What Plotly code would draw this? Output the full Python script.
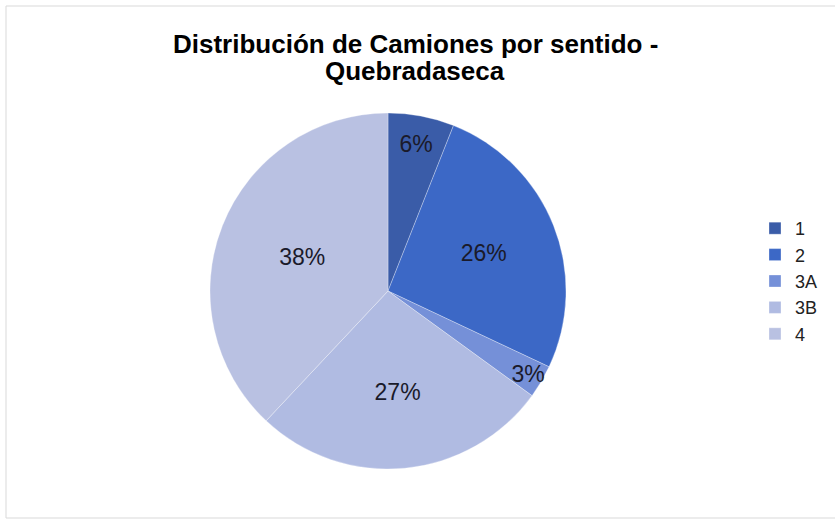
import plotly.graph_objects as go

categories = ["1", "2", "3A", "3B", "4"]
values = [6, 26, 3, 27, 38]
colors = ["#3A5CA8", "#3C68C6", "#7590D8", "#B0BBE2", "#B9C1E2"]
title_lines = ["Distribución de Camiones por sentido -", "Quebradaseca"]

W, H = 835, 519
cx, cy, r = 388, 291, 178

fig = go.Figure(go.Pie(
    labels=categories,
    values=values,
    sort=False,
    direction="clockwise",
    rotation=0,
    marker=dict(colors=colors, line=dict(color="rgba(255,255,255,0.6)", width=0.5)),
    textinfo="percent",
    texttemplate="%{percent:.0%}",
    textposition="inside",
    insidetextorientation="horizontal",
    textfont=dict(family="Liberation Sans, Arial", size=23, color="#1A1A2A"),
    hoverinfo="label+percent",
    domain=dict(x=[(cx - r) / W, (cx + r) / W], y=[(H - cy - r) / H, (H - cy + r) / H]),
))

fig.update_layout(
    width=W, height=H,
    margin=dict(l=0, r=0, t=0, b=0),
    paper_bgcolor="white",
    uniformtext=dict(minsize=23, mode="show"),
    legend=dict(
        x=755 / W, xanchor="left", y=1 - 210 / H, yanchor="top",
        font=dict(family="Liberation Sans, Arial", size=18, color="#222222"),
        itemwidth=30, tracegroupgap=0,
    ),
    annotations=[
        dict(text="<b>%s</b>" % title_lines[0], xref="paper", yref="paper",
             x=415 / W, y=1 - 44 / H, xanchor="center", yanchor="middle", showarrow=False,
             font=dict(family="Liberation Sans, Arial", size=26, color="#000000")),
        dict(text="<b>%s</b>" % title_lines[1], xref="paper", yref="paper",
             x=415 / W, y=1 - 71 / H, xanchor="center", yanchor="middle", showarrow=False,
             font=dict(family="Liberation Sans, Arial", size=26, color="#000000")),
    ],
    shapes=[dict(type="rect", xref="paper", yref="paper",
                 x0=6 / W, x1=1.01, y0=1 / H, y1=1 - 6 / H,
                 line=dict(color="#D9D9D9", width=1), fillcolor="rgba(0,0,0,0)")],
)

fig.write_html("out.html", config={"displayModeBar": False},
               post_script="document.body.style.margin='0';document.body.style.overflow='hidden';")
